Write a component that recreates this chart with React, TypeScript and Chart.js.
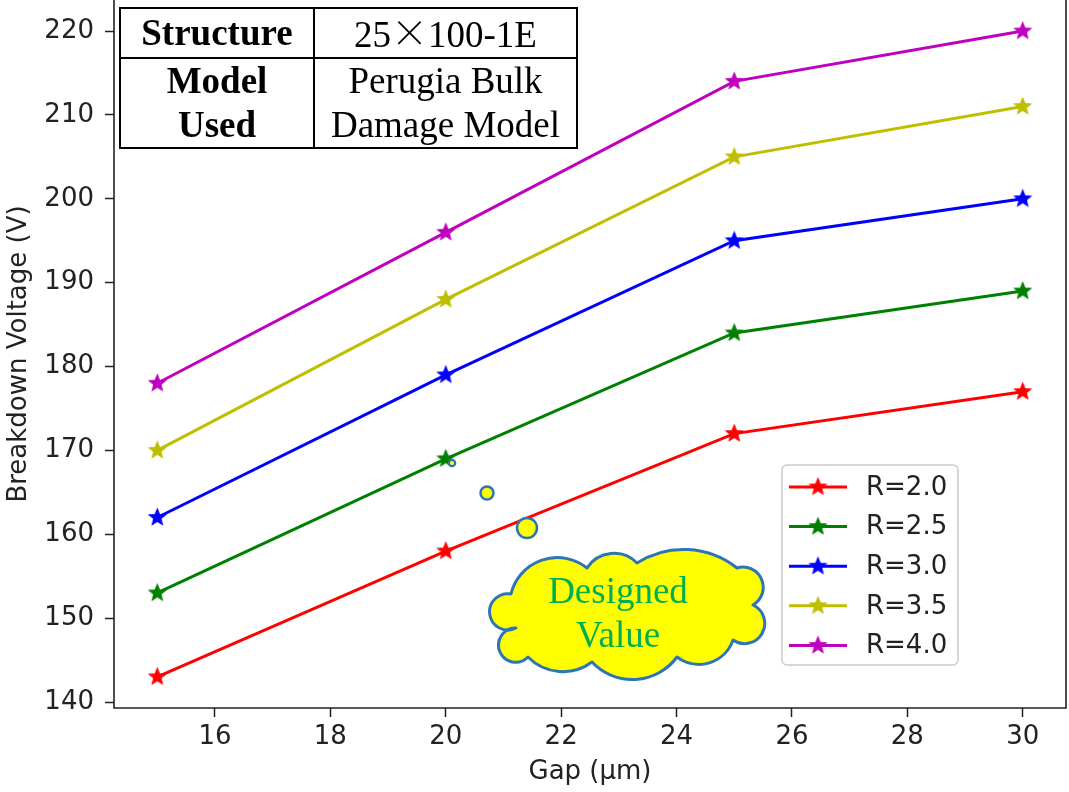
import React, { useEffect, useRef } from 'react';
import { Chart, registerables } from 'chart.js';

Chart.register(...registerables);

// ---- data ----
const gaps = [15, 20, 25, 30];
const seriesLabels = ['R=2.0', 'R=2.5', 'R=3.0', 'R=3.5', 'R=4.0'];
const r20 = [143, 158, 172, 177];
const r25 = [153, 169, 184, 189];
const r30 = [162, 179, 195, 200];
const r35 = [170, 188, 205, 211];
const r40 = [178, 196, 214, 220];
const seriesColors = ['#ff0000', '#008000', '#0000ff', '#bfbf00', '#bf00bf'];
const xTicks = [16, 18, 20, 22, 24, 26, 28, 30];
const yTicks = [140, 150, 160, 170, 180, 190, 200, 210, 220];
const xTitle = 'Gap (µm)';
const yTitle = 'Breakdown Voltage (V)';

const seriesValues = [r20, r25, r30, r35, r40];

const FONT = '"DejaVu Sans", sans-serif';
const TXT = '#222222';
const FS = 26;

function makeStar(color: string, r: number): HTMLCanvasElement {
  const size = Math.ceil(r * 2 + 4);
  const c = document.createElement('canvas');
  c.width = size;
  c.height = size;
  const ctx = c.getContext('2d')!;
  ctx.fillStyle = color;
  ctx.strokeStyle = color;
  ctx.lineWidth = 1.2;
  ctx.lineJoin = 'miter';
  ctx.beginPath();
  for (let i = 0; i < 10; i++) {
    const rad = i % 2 === 0 ? r : r * 0.44;
    const a = -Math.PI / 2 + (i * Math.PI) / 5;
    const x = size / 2 + rad * Math.cos(a);
    const y = size / 2 + rad * Math.sin(a);
    if (i === 0) ctx.moveTo(x, y);
    else ctx.lineTo(x, y);
  }
  ctx.closePath();
  ctx.fill();
  ctx.stroke();
  return c;
}

function cloudPath(): string {
  const joints = [
    [511, 594], [587, 568], [637, 563], [737, 568], [753, 605],
    [733, 640], [677, 657], [592, 662], [528, 657], [516, 628],
  ];
  const sag = [22, 12, 16, 18, 22, 15, 20, 12, 24, 24];
  let d = `M ${joints[0][0]} ${joints[0][1]}`;
  for (let i = 0; i < joints.length; i++) {
    const a = joints[i];
    const b = joints[(i + 1) % joints.length];
    const c = Math.hypot(b[0] - a[0], b[1] - a[1]);
    const s = sag[i];
    const r = (s * s + (c * c) / 4) / (2 * s);
    const large = s > c / 2 ? 1 : 0;
    d += ` A ${r.toFixed(2)} ${r.toFixed(2)} 0 ${large} 1 ${b[0]} ${b[1]}`;
  }
  return d + ' Z';
}

export default function App() {
  const canvasRef = useRef<HTMLCanvasElement>(null);

  useEffect(() => {
    const canvas = canvasRef.current!;
    const stars = seriesColors.map((c) => makeStar(c, 8.5));

    const framePlugin = {
      id: 'frame',
      afterDatasetsDraw(chart: any) {
        const { ctx, chartArea } = chart;
        ctx.save();
        ctx.strokeStyle = TXT;
        ctx.lineWidth = 1.6;
        ctx.beginPath();
        ctx.moveTo(chartArea.left, chartArea.top);
        ctx.lineTo(chartArea.left, chartArea.bottom);
        ctx.lineTo(chartArea.right, chartArea.bottom);
        ctx.lineTo(chartArea.right, chartArea.top);
        ctx.stroke();
        ctx.restore();
      },
    };

    const legendPlugin = {
      id: 'insideLegend',
      afterDraw(chart: any) {
        const { ctx } = chart;
        ctx.save();
        const bx = 782, by = 465, bw = 176, bh = 200;
        ctx.fillStyle = 'rgba(255,255,255,0.8)';
        ctx.strokeStyle = '#cccccc';
        ctx.lineWidth = 1.5;
        ctx.beginPath();
        ctx.roundRect(bx, by, bw, bh, 5);
        ctx.fill();
        ctx.stroke();
        chart.data.datasets.forEach((ds: any, i: number) => {
          const cy = 487 + i * 39.6;
          ctx.strokeStyle = ds.borderColor;
          ctx.lineWidth = 3;
          ctx.beginPath();
          ctx.moveTo(789, cy);
          ctx.lineTo(847, cy);
          ctx.stroke();
          const img = stars[i];
          ctx.drawImage(img, 818 - img.width / 2, cy - img.height / 2);
          ctx.fillStyle = TXT;
          ctx.font = `${FS}px ${FONT}`;
          ctx.textBaseline = 'middle';
          ctx.textAlign = 'left';
          ctx.fillText(ds.label, 866, cy + 1);
        });
        ctx.restore();
      },
    };

    const chart = new Chart(canvas, {
      type: 'line',
      data: {
        datasets: seriesValues.map((vals, i) => ({
          label: seriesLabels[i],
          data: gaps.map((g, j) => ({ x: g, y: vals[j] })),
          borderColor: seriesColors[i],
          backgroundColor: seriesColors[i],
          borderWidth: 3,
          pointStyle: stars[i] as any,
          pointRadius: 8,
          tension: 0,
          fill: false,
        })),
      },
      options: {
        animation: false,
        responsive: false,
        devicePixelRatio: 1,
        events: [],
        layout: { autoPadding: false, padding: { left: 0, right: 3, top: 0, bottom: 0 } },
        plugins: {
          legend: { display: false },
          tooltip: { enabled: false },
          title: { display: false },
        },
        scales: {
          x: {
            type: 'linear',
            min: 14.25,
            max: 30.75,
            afterBuildTicks: (s: any) => {
              s.ticks = xTicks.map((v) => ({ value: v }));
            },
            afterFit: (s: any) => {
              s.height = 84;
              s.paddingLeft = 0;
              s.paddingRight = 0;
            },
            ticks: {
              font: { family: FONT, size: FS },
              color: TXT,
              padding: 5,
              maxRotation: 0,
              autoSkip: false,
            },
            grid: {
              drawOnChartArea: false,
              drawTicks: true,
              tickLength: 9,
              tickWidth: 1.5,
              tickColor: TXT,
            },
            border: { display: false },
            title: {
              display: true,
              text: xTitle,
              color: TXT,
              font: { family: FONT, size: FS },
              padding: { top: 0, bottom: 4 },
            },
          },
          y: {
            type: 'linear',
            min: 139.285,
            max: 223.7,
            afterBuildTicks: (s: any) => {
              s.ticks = yTicks.map((v) => ({ value: v }));
            },
            afterFit: (s: any) => {
              s.width = 114;
              s.paddingTop = 0;
              s.paddingBottom = 0;
            },
            ticks: {
              font: { family: FONT, size: FS },
              color: TXT,
              padding: 11,
              autoSkip: false,
            },
            grid: {
              drawOnChartArea: false,
              drawTicks: true,
              tickLength: 9,
              tickWidth: 1.5,
              tickColor: TXT,
            },
            border: { display: false },
            title: {
              display: true,
              text: yTitle,
              color: TXT,
              font: { family: FONT, size: FS },
              padding: { top: 4, bottom: 0 },
            },
          },
        },
      } as any,
      plugins: [framePlugin, legendPlugin],
    });

    return () => chart.destroy();
  }, []);

  const cellBase: React.CSSProperties = {
    border: '2px solid #000',
    textAlign: 'center',
    verticalAlign: 'middle',
    padding: 0,
    lineHeight: '44px',
  };

  return (
    <div style={{ position: 'fixed', left: 0, top: 0, width: 1069, height: 792, background: '#fff' }}>
      <canvas
        ref={canvasRef}
        width={1069}
        height={792}
        style={{ display: 'block', width: 1069, height: 792 }}
      />
      <table
        style={{
          position: 'absolute',
          left: 119,
          top: 7,
          width: 459,
          height: 139,
          borderCollapse: 'collapse',
          background: '#fff',
          fontFamily: '"Liberation Serif", "Times New Roman", serif',
          fontSize: 37,
          color: '#000',
          tableLayout: 'fixed',
        }}
      >
        <tbody>
          <tr style={{ height: 47 }}>
            <td style={{ ...cellBase, width: 192, fontWeight: 'bold' }}>Structure</td>
            <td style={cellBase}>
              25<span style={{ fontFamily: '"Noto Sans CJK SC"', fontWeight: 300 }}>×</span>100-1E
            </td>
          </tr>
          <tr style={{ height: 90 }}>
            <td style={{ ...cellBase, fontWeight: 'bold' }}>
              Model
              <br />
              Used
            </td>
            <td style={cellBase}>
              Perugia Bulk
              <br />
              Damage Model
            </td>
          </tr>
        </tbody>
      </table>
      <svg
        width={1069}
        height={792}
        style={{ position: 'absolute', left: 0, top: 0, pointerEvents: 'none' }}
      >
        <circle cx={452} cy={463} r={3.2} fill="#ffff00" stroke="#2e75b6" strokeWidth={2.2} />
        <circle cx={487} cy={493} r={6.5} fill="#ffff00" stroke="#2e75b6" strokeWidth={2.5} />
        <circle cx={527} cy={528} r={10} fill="#ffff00" stroke="#2e75b6" strokeWidth={2.5} />
        <path d={cloudPath()} fill="#ffff00" stroke="#2e75b6" strokeWidth={3} strokeLinejoin="round" />
        <text
          x={618}
          y={603}
          textAnchor="middle"
          fontFamily='"Liberation Serif", "Times New Roman", serif'
          fontSize={37}
          fill="#00b050"
        >
          Designed
        </text>
        <text
          x={618}
          y={647}
          textAnchor="middle"
          fontFamily='"Liberation Serif", "Times New Roman", serif'
          fontSize={37}
          fill="#00b050"
        >
          Value
        </text>
      </svg>
    </div>
  );
}
